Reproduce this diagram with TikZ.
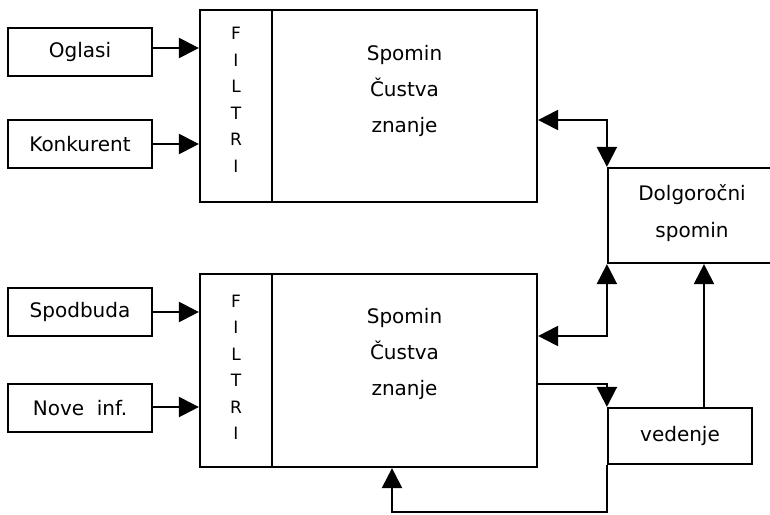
\documentclass[tikz,border=0pt]{standalone}
\usepackage{fontspec}
\setmainfont{DejaVu Sans}
\usetikzlibrary{arrows.meta}
\begin{document}
\begin{tikzpicture}[x=1pt,y=-1pt,
  line width=2.2pt,
  box/.style={draw, rectangle, inner sep=0pt, line width=2.2pt},
  lbl/.style={font=\fontsize{20}{22}\selectfont},
  memtxt/.style={align=center, font=\fontsize{20}{36}\selectfont},
  filttxt/.style={align=center, font=\fontsize{17}{26.5}\selectfont},
  arr/.style={-{Triangle[length=20pt,width=20pt]}},
  darr/.style={{Triangle[length=20pt,width=20pt]}-{Triangle[length=20pt,width=20pt]}}
]
\useasboundingbox (0,0) rectangle (770,514);
\clip (0,0) rectangle (770,514);

% upper block: filter strip and memory box
\node[box, minimum width=72pt, minimum height=192pt] (filt1) at (236,106) {};
\node[box, minimum width=265pt, minimum height=192pt] (mem1) at (404.5,106) {};
\node[filttxt] (filt1t) at ([yshift=6pt]filt1.center) {F\\I\\L\\T\\R\\I};
\node[memtxt] (mem1t) at ([yshift=15pt]mem1.center) {Spomin\\Čustva\\znanje};

% lower block
\node[box, minimum width=72pt, minimum height=193pt] (filt2) at (236,370.5) {};
\node[box, minimum width=265pt, minimum height=193pt] (mem2) at (404.5,370.5) {};
\node[filttxt] (filt2t) at ([yshift=3pt]filt2.center) {F\\I\\L\\T\\R\\I};
\node[memtxt] (mem2t) at ([yshift=17pt]mem2.center) {Spomin\\Čustva\\znanje};

% input boxes
\node[box, lbl, minimum width=144pt, minimum height=48pt] (ogl) at (80,52) {Oglasi};
\node[box, lbl, minimum width=144pt, minimum height=48pt] (konk) at (80,144) {Konkurent};
\node[box, lbl, minimum width=144pt, minimum height=48pt] (spod) at (80,312) {Spodbuda};
\node[box, lbl, minimum width=144pt, minimum height=48pt] (nove) at (80,408) {Nove\ \ inf.};

% long-term memory and behaviour
\node[box, minimum width=168pt, minimum height=95pt] (dolg) at (692,215.5) {};
\node[memtxt, font=\fontsize{20}{37}\selectfont] (dolgt) at ([yshift=2pt]dolg.center) {Dolgoročni\\spomin};
\node[box, lbl, minimum width=144pt, minimum height=56pt] (ved) at (680,436) {vedenje};

% inputs into the filters
\draw[arr] ([yshift=4pt]ogl.east) -- ([yshift=4pt]ogl.east -| filt1.west);
\draw[arr] (konk.east) -- (konk.east -| filt1.west);
\draw[arr] (spod.east) -- (spod.east -| filt2.west);
\draw[arr] ([yshift=1pt]nove.east) -- ([yshift=1pt]nove.east -| filt2.west);

% exchange with long-term memory
\draw[darr] ([yshift=-14pt]mem1.east) -| (dolg.north west);
\draw[darr] ([yshift=34.5pt]mem2.east) -| (dolg.south west);

% memory drives behaviour
\draw[arr] ([yshift=-13.5pt]mem2.east) -| (ved.north west);
\draw[arr] ([xshift=24pt]ved.north) -- ([xshift=24pt]ved.north |- dolg.south);

% feedback from behaviour
\coordinate (fb) at (392,512);
\draw[arr] (ved.south west) |- (fb) -- (fb |- mem2.south);
\end{tikzpicture}
\end{document}
